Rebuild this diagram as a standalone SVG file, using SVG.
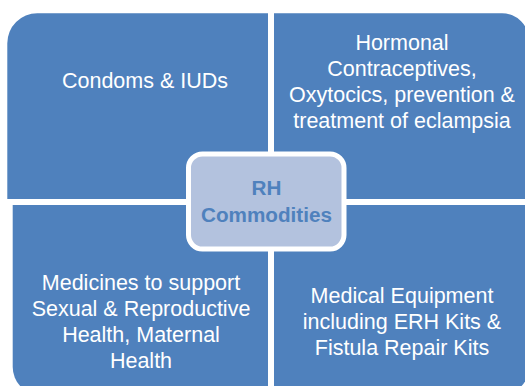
<svg xmlns="http://www.w3.org/2000/svg" width="525" height="386" viewBox="0 0 525 386">
<style>
.q{fill:#4F81BD}
.t{font-family:"Liberation Sans",Arial,sans-serif;font-size:21.5px;fill:#FFFFFF;text-anchor:middle}
.c{font-family:"Liberation Sans",Arial,sans-serif;font-size:20.7px;font-weight:bold;fill:#4F81BD;text-anchor:middle}
</style>
<rect width="525" height="386" fill="#FFFFFF"/>
<g id="node-condoms">
<path class="q" d="M7.3,199 V43.3 A30,30 0 0 1 37.3,13.3 H268 V199 Z"/>
<text class="t" x="145" y="88.3">Condoms &amp; IUDs</text>
</g>
<g id="node-hormonal">
<path class="q" d="M274,13.3 H502 A27,27 0 0 1 529,40.3 V199 H274 Z"/>
<text class="t" x="402" y="50">Hormonal</text>
<text class="t" x="402" y="76">Contraceptives,</text>
<text class="t" x="402" y="102">Oxytocics, prevention &amp;</text>
<text class="t" x="402" y="128">treatment of eclampsia</text>
</g>
<g id="node-medicines">
<path class="q" d="M12.7,205 H268 V395 H40.7 A28,28 0 0 1 12.7,367 Z"/>
<text class="t" x="141" y="289.5">Medicines to support</text>
<text class="t" x="141" y="315.5">Sexual &amp; Reproductive</text>
<text class="t" x="141" y="341.5">Health, Maternal</text>
<text class="t" x="141" y="367.5">Health</text>
</g>
<g id="node-equipment">
<path class="q" d="M274,205 H529 V367 A28,28 0 0 1 501,395 H274 Z"/>
<text class="t" x="402" y="303">Medical Equipment</text>
<text class="t" x="402" y="329">including ERH Kits &amp;</text>
<text class="t" x="402" y="355">Fistula Repair Kits</text>
</g>
<g id="node-center">
<rect x="188.5" y="154" width="155.5" height="95" rx="14" fill="#B3C2DE" stroke="#FFFFFF" stroke-width="5"/>
<text class="c" x="266.5" y="195">RH</text>
<text class="c" x="266.5" y="221.5">Commodities</text>
</g>
</svg>
